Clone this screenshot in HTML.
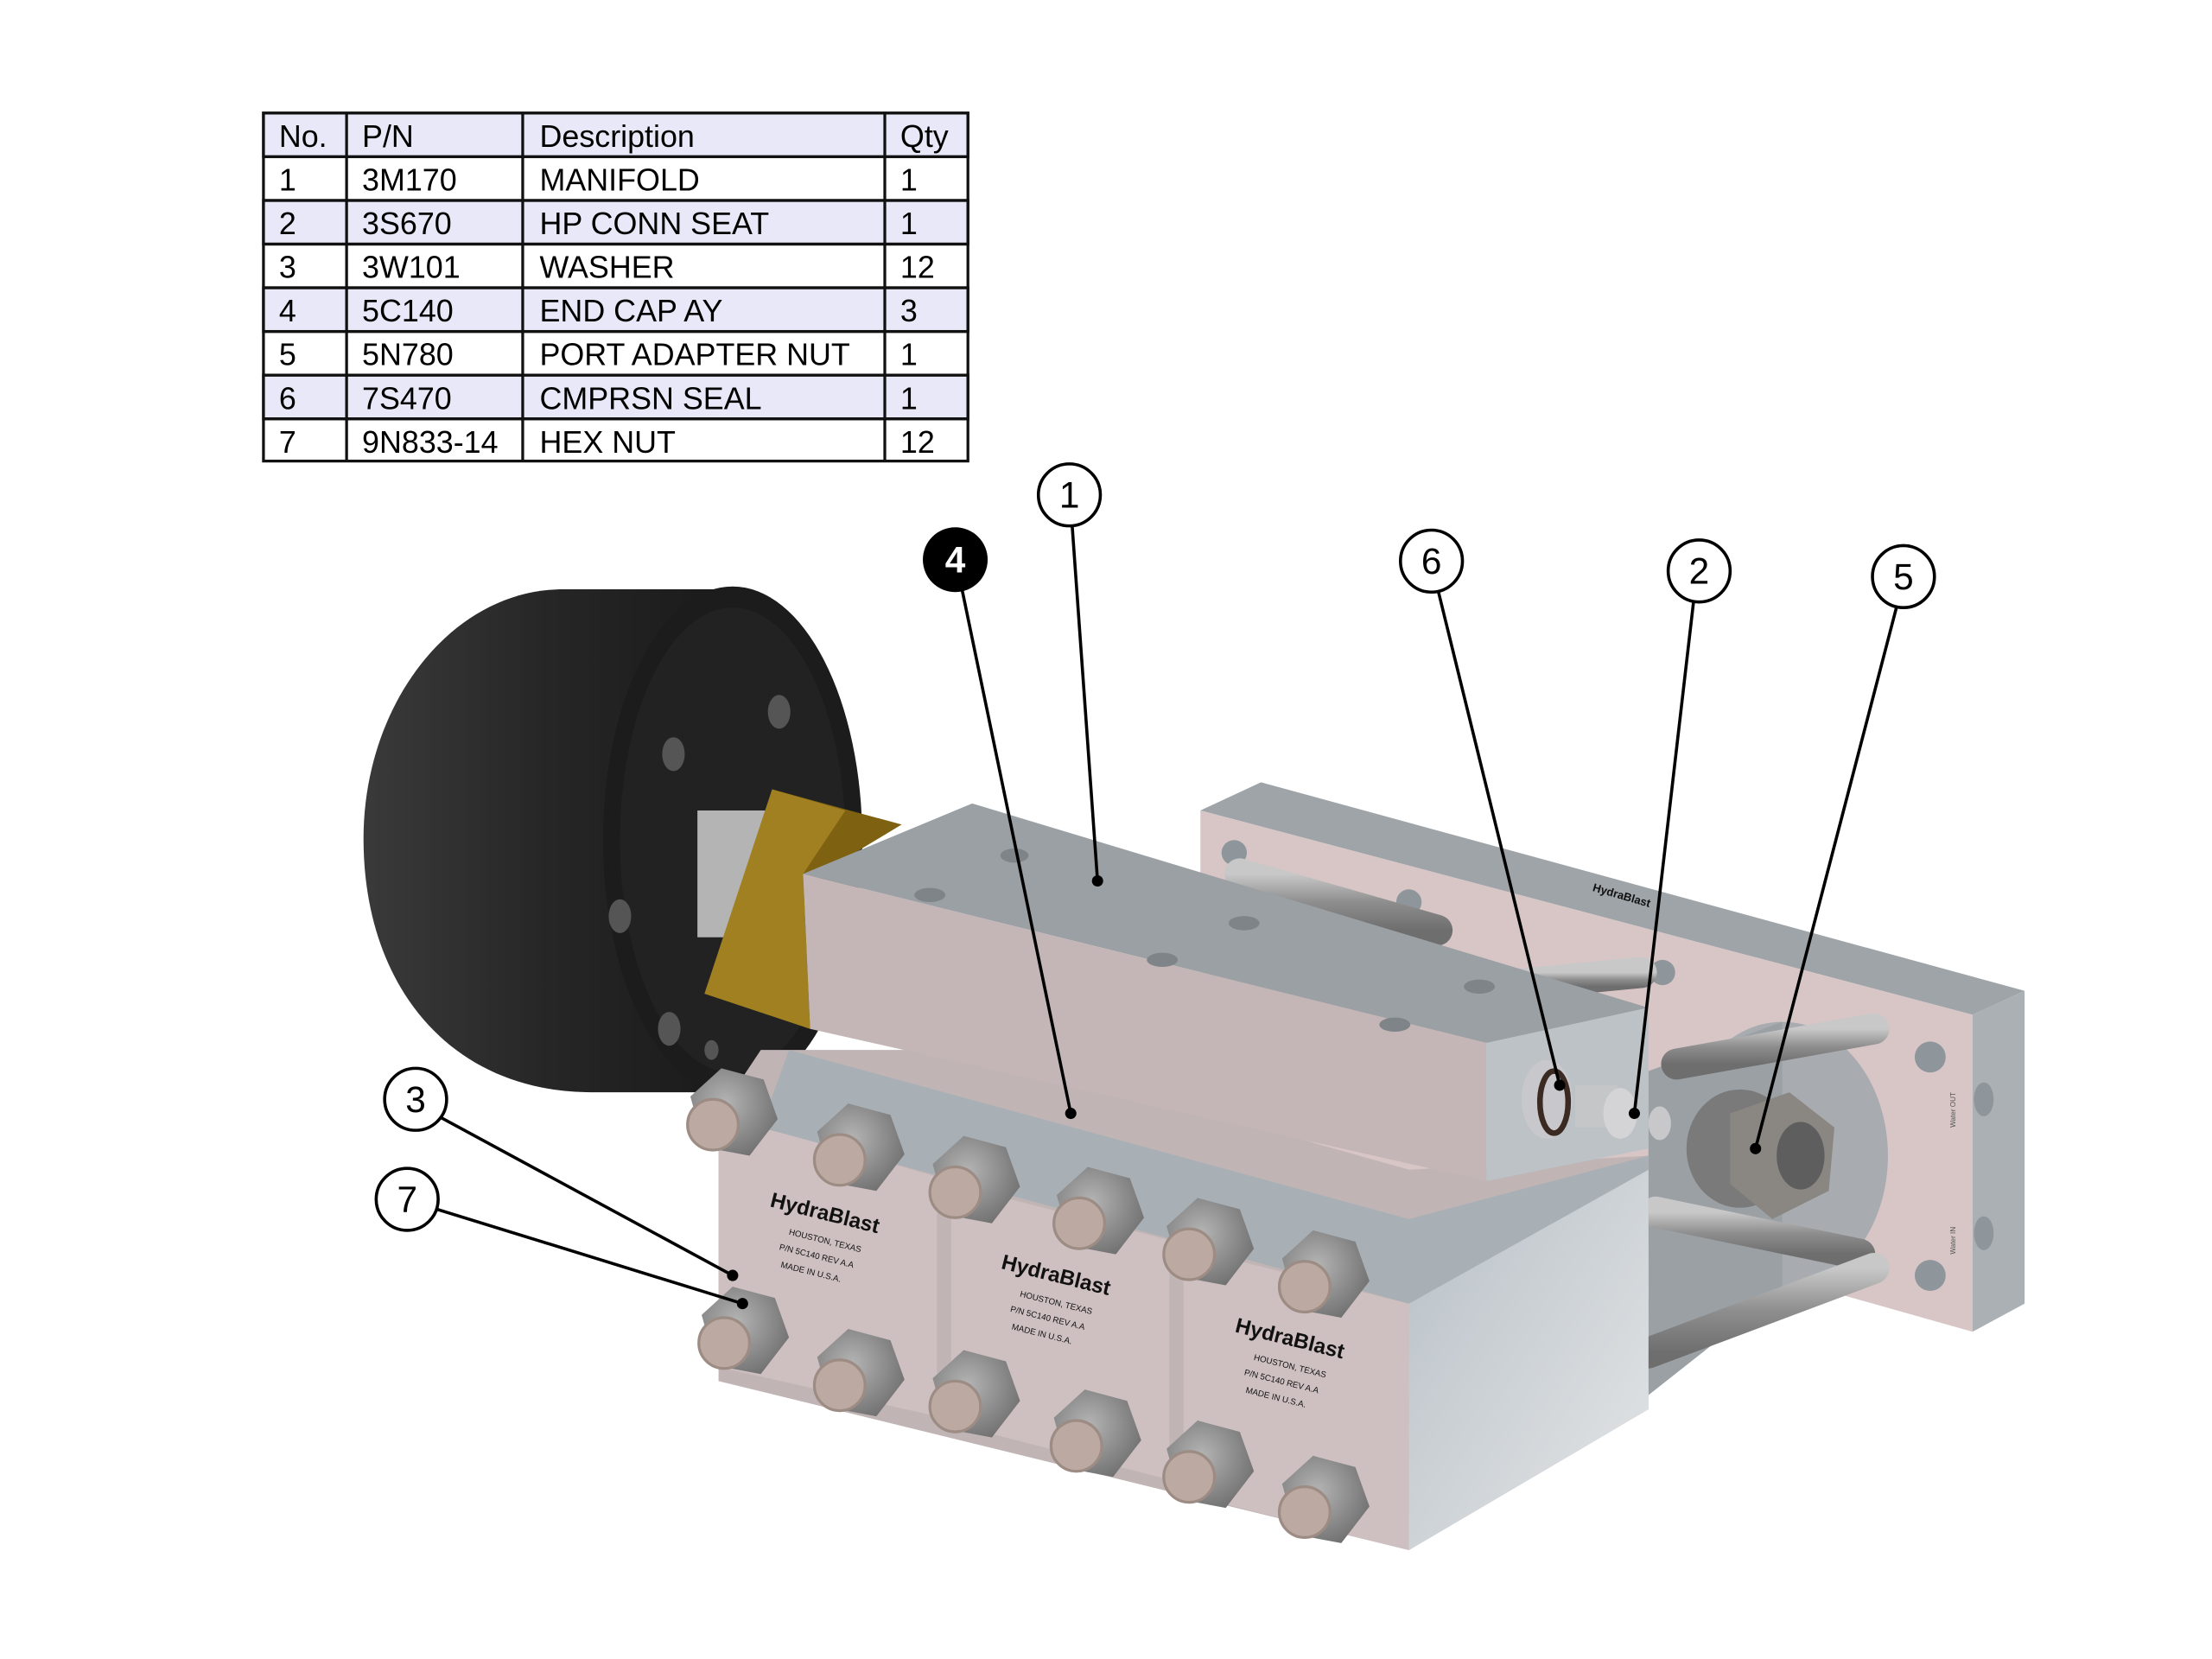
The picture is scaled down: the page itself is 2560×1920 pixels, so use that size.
<!DOCTYPE html>
<html><head><meta charset="utf-8"><style>
html,body{margin:0;padding:0;background:#fff;width:2560px;height:1920px;overflow:hidden}
svg{display:block}
text{font-family:"Liberation Sans",sans-serif}
</style></head><body>
<svg width="2560" height="1920" viewBox="0 0 1570 1177" xmlns="http://www.w3.org/2000/svg">
<defs>
<linearGradient id="drum" x1="0" y1="0" x2="1" y2="0"><stop offset="0" stop-color="#3a3a3a"/><stop offset="0.5" stop-color="#262626"/><stop offset="1" stop-color="#1a1a1a"/></linearGradient>
<linearGradient id="capR" x1="0" y1="0" x2="1" y2="1"><stop offset="0" stop-color="#b8c0c6"/><stop offset="1" stop-color="#e4e6e8"/></linearGradient>
<linearGradient id="rod" x1="0" y1="0" x2="0" y2="1"><stop offset="0" stop-color="#c8c8c8"/><stop offset="0.5" stop-color="#8e8e8e"/><stop offset="1" stop-color="#6e6e6e"/></linearGradient>
<radialGradient id="nut" cx="0.4" cy="0.4" r="0.7"><stop offset="0" stop-color="#b4b4b4"/><stop offset="1" stop-color="#6c6c6c"/></radialGradient>
<g id="n"><polygon points="-30,-12 -8,-32 22,-24 32,4 12,30 -20,24" fill="url(#nut)"/><circle cx="-14" cy="8" r="18" fill="#bcaaa2"/><circle cx="-14" cy="8" r="18" fill="none" stroke="#9c8c84" stroke-width="2"/></g>
</defs>

<!-- table -->
<g stroke="#111" stroke-width="2" font-size="22">
<rect x="187" y="80" width="500" height="31" fill="#e8e8f8"/>
<rect x="187" y="142" width="500" height="31" fill="#e8e8f8"/>
<rect x="187" y="204" width="500" height="31" fill="#e8e8f8"/>
<rect x="187" y="266" width="500" height="31" fill="#e8e8f8"/>
<rect x="187" y="80" width="500" height="247" fill="none"/>
<line x1="187" y1="111" x2="687" y2="111"/><line x1="187" y1="142" x2="687" y2="142"/>
<line x1="187" y1="173" x2="687" y2="173"/><line x1="187" y1="204" x2="687" y2="204"/>
<line x1="187" y1="235" x2="687" y2="235"/><line x1="187" y1="266" x2="687" y2="266"/>
<line x1="187" y1="297" x2="687" y2="297"/>
<line x1="246" y1="80" x2="246" y2="327"/><line x1="371" y1="80" x2="371" y2="327"/><line x1="628" y1="80" x2="628" y2="327"/>
</g>
<g font-size="22" fill="#000">
<text x="198" y="104">No.</text><text x="257" y="104">P/N</text><text x="383" y="104">Description</text><text x="639" y="104">Qty</text>
<text x="198" y="135">1</text><text x="257" y="135">3M170</text><text x="383" y="135">MANIFOLD</text><text x="639" y="135">1</text>
<text x="198" y="166">2</text><text x="257" y="166">3S670</text><text x="383" y="166">HP CONN SEAT</text><text x="639" y="166">1</text>
<text x="198" y="197">3</text><text x="257" y="197">3W101</text><text x="383" y="197">WASHER</text><text x="639" y="197">12</text>
<text x="198" y="228">4</text><text x="257" y="228">5C140</text><text x="383" y="228">END CAP AY</text><text x="639" y="228">3</text>
<text x="198" y="259">5</text><text x="257" y="259">5N780</text><text x="383" y="259">PORT ADAPTER NUT</text><text x="639" y="259">1</text>
<text x="198" y="290">6</text><text x="257" y="290">7S470</text><text x="383" y="290">CMPRSN SEAL</text><text x="639" y="290">1</text>
<text x="198" y="321">7</text><text x="257" y="321">9N833-14</text><text x="383" y="321">HEX NUT</text><text x="639" y="321">12</text>
</g>

<!-- back plate -->
<polygon points="852,575 895,555 1437,703 1400,720" fill="#9ea4a8"/>
<polygon points="852,575 1400,720 1400,945 852,790" fill="#d8c6c6"/>
<polygon points="1400,720 1437,703 1437,925 1400,945" fill="#aab0b4"/>
<circle cx="1370" cy="750" r="11" fill="#8e969c"/><circle cx="1370" cy="905" r="11" fill="#8e969c"/>
<ellipse cx="1408" cy="780" rx="7" ry="12" fill="#8e969c"/><ellipse cx="1408" cy="875" rx="7" ry="12" fill="#8e969c"/>
<g fill="#8e969c"><circle cx="876" cy="605" r="9"/><circle cx="1000" cy="640" r="9"/><circle cx="1180" cy="690" r="9"/></g>
<!-- cylinder & rods -->
<ellipse cx="1265" cy="820" rx="75" ry="95" fill="#a8acb0"/>
<polygon points="1170,760 1265,725 1265,915 1170,990" fill="#9aa0a4"/>
<g stroke="url(#rod)" stroke-width="22" stroke-linecap="round">
<line x1="1190" y1="755" x2="1330" y2="730"/><line x1="1175" y1="860" x2="1320" y2="890"/>
<line x1="1170" y1="960" x2="1330" y2="900"/><line x1="880" y1="620" x2="1020" y2="660"/>
<line x1="1060" y1="700" x2="1165" y2="690"/>
</g>
<!-- port adapter nut -->
<ellipse cx="1235" cy="815" rx="38" ry="42" fill="#7a7a7a"/>
<polygon points="1228,790 1270,775 1302,800 1298,845 1258,865 1228,840" fill="#8a8682"/>
<ellipse cx="1278" cy="820" rx="17" ry="24" fill="#5e5e5e"/>

<!-- drum -->
<path d="M400,418 C320,418 258,500 258,595 C258,700 320,775 420,775 L520,775 L520,418 Z" fill="url(#drum)"/>
<ellipse cx="520" cy="596" rx="92" ry="180" fill="#1c1c1c"/>
<ellipse cx="520" cy="596" rx="80" ry="165" fill="#222"/>
<g fill="#555"><ellipse cx="478" cy="535" rx="8" ry="12"/><ellipse cx="553" cy="505" rx="8" ry="12"/><ellipse cx="440" cy="650" rx="8" ry="12"/><ellipse cx="475" cy="730" rx="8" ry="12"/><ellipse cx="505" cy="745" rx="5" ry="7"/></g>
<!-- shaft & gold block -->
<rect x="495" y="575" width="70" height="90" fill="#b4b4b4"/>
<polygon points="548,560 640,585 590,615 500,705 575,730" fill="#7e6212"/>
<polygon points="548,560 600,575 570,620 575,730 500,705" fill="#a08020"/>

<!-- end caps lower block -->
<polygon points="540,745 700,745 1000,830 1170,820 1170,1000 1000,1100 510,980 510,790" fill="#c0b4b4"/>
<polygon points="510,790 665,835 665,1005 510,970" fill="#cec0c0"/>
<polygon points="675,840 830,880 830,1050 675,1010" fill="#cec0c0"/>
<polygon points="840,885 1000,925 1000,1100 840,1060" fill="#cec0c0"/>
<polygon points="1000,925 1170,830 1170,1000 1000,1100" fill="url(#capR)"/>
<polygon points="560,745 1000,865 1170,820 1170,830 1000,925 540,800" fill="#a8b0b6"/>

<!-- manifold -->
<polygon points="570,620 690,570 1170,715 1055,740" fill="#9aa0a4"/>
<polygon points="570,620 1055,740 1055,838 575,730" fill="#c4b6b6"/>
<polygon points="1055,740 1170,715 1170,815 1055,838" fill="#bcc2c6"/>
<g fill="#7e8488"><ellipse cx="660" cy="635" rx="11" ry="5"/><ellipse cx="720" cy="607" rx="10" ry="5"/><ellipse cx="883" cy="655" rx="11" ry="5"/><ellipse cx="825" cy="681" rx="11" ry="5"/><ellipse cx="1050" cy="700" rx="11" ry="5"/><ellipse cx="990" cy="727" rx="11" ry="5"/></g>
<!-- seal fittings -->
<ellipse cx="1098" cy="780" rx="18" ry="28" fill="#c8c8cc"/>
<ellipse cx="1103" cy="782" rx="10" ry="22" fill="none" stroke="#3a2a22" stroke-width="4"/>
<rect x="1118" y="770" width="30" height="30" fill="#c4c6c8"/>
<ellipse cx="1150" cy="790" rx="12" ry="18" fill="#d4d4d6"/>
<ellipse cx="1178" cy="797" rx="8" ry="12" fill="#c8c8ca"/>

<!-- nuts -->
<use href="#n" x="520" y="790"/><use href="#n" x="610" y="815"/><use href="#n" x="692" y="838"/>
<use href="#n" x="780" y="860"/><use href="#n" x="858" y="882"/><use href="#n" x="940" y="905"/>
<use href="#n" x="528" y="945"/><use href="#n" x="610" y="975"/><use href="#n" x="692" y="990"/>
<use href="#n" x="778" y="1018"/><use href="#n" x="858" y="1040"/><use href="#n" x="940" y="1065"/>

<!-- labels on caps -->
<g fill="#111">
<g transform="translate(546,856) rotate(14)"><text font-size="15" font-weight="bold">HydraBlast</text><text x="18" y="16" font-size="6">HOUSTON, TEXAS</text><text x="14" y="28" font-size="6">P/N 5C140   REV A.A</text><text x="18" y="40" font-size="6">MADE IN U.S.A.</text></g>
<g transform="translate(710,900) rotate(14)"><text font-size="15" font-weight="bold">HydraBlast</text><text x="18" y="16" font-size="6">HOUSTON, TEXAS</text><text x="14" y="28" font-size="6">P/N 5C140   REV A.A</text><text x="18" y="40" font-size="6">MADE IN U.S.A.</text></g>
<g transform="translate(876,945) rotate(14)"><text font-size="15" font-weight="bold">HydraBlast</text><text x="18" y="16" font-size="6">HOUSTON, TEXAS</text><text x="14" y="28" font-size="6">P/N 5C140   REV A.A</text><text x="18" y="40" font-size="6">MADE IN U.S.A.</text></g>
<g transform="translate(1130,632) rotate(16)"><text font-size="8" font-weight="bold">HydraBlast</text></g>
<text transform="translate(1388,800) rotate(-90)" font-size="5" fill="#555">Water OUT</text>
<text transform="translate(1388,890) rotate(-90)" font-size="5" fill="#555">Water IN</text>
</g>

<!-- leaders -->
<g stroke="#000" stroke-width="2.2" fill="none">
<line x1="761" y1="373" x2="779" y2="625"/>
<line x1="683" y1="419" x2="760" y2="790"/>
<line x1="1021" y1="420" x2="1107" y2="770"/>
<line x1="1202" y1="427" x2="1160" y2="790"/>
<line x1="1346" y1="431" x2="1246" y2="815"/>
<line x1="313" y1="793" x2="520" y2="905"/>
<line x1="310" y1="858" x2="527" y2="925"/>
</g>
<g fill="#000"><circle cx="779" cy="625" r="4"/><circle cx="760" cy="790" r="4"/><circle cx="1107" cy="770" r="4"/><circle cx="1160" cy="790" r="4"/><circle cx="1246" cy="815" r="4"/><circle cx="520" cy="905" r="4"/><circle cx="527" cy="925" r="4"/></g>

<!-- bubbles -->
<g stroke="#000" stroke-width="2.2" fill="#fff">
<circle cx="759" cy="351" r="22"/><circle cx="1016" cy="398" r="22"/><circle cx="1206" cy="405" r="22"/>
<circle cx="1351" cy="409" r="22"/><circle cx="295" cy="780" r="22"/><circle cx="289" cy="851" r="22"/>
</g>
<circle cx="678" cy="397" r="23" fill="#000"/>
<g font-size="26" text-anchor="middle">
<text x="759" y="360">1</text><text x="678" y="406" fill="#fff" font-weight="bold">4</text>
<text x="1016" y="407">6</text><text x="1206" y="414">2</text><text x="1351" y="418">5</text>
<text x="295" y="789">3</text><text x="289" y="860">7</text>
</g>
</svg>
</body></html>
